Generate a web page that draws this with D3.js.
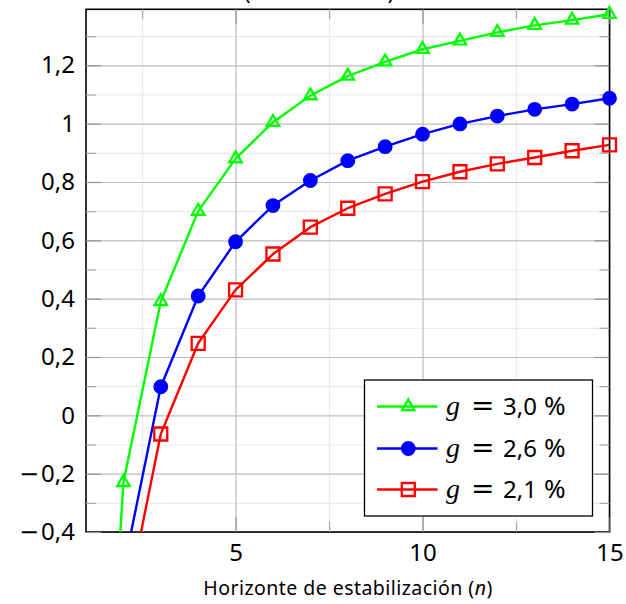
<!DOCTYPE html>
<html>
<head>
<meta charset="utf-8">
<script src="https://cdn.jsdelivr.net/npm/d3@7"></script>
<style>
  body { margin: 0; background: #fff; }
  text { font-family: "Noto Sans", sans-serif; fill: #000; }
</style>
</head>
<body>
<div id="js-canvas"></div>
<script>
"use strict";

// Horizon n (x axis).
const horizons = [1, 2, 3, 4, 5, 6, 7, 8, 9, 10, 11, 12, 13, 14, 15];

// One value per horizon, for each growth rate g.
const g30 = [-2.30, -0.23, 0.39, 0.70, 0.88, 1.005, 1.096, 1.163, 1.212, 1.255, 1.284, 1.313, 1.337, 1.355, 1.375];
const g26 = [-2.90, -0.53, 0.098, 0.409, 0.595, 0.719, 0.805, 0.873, 0.921, 0.964, 0.999, 1.026, 1.049, 1.067, 1.087];
const g21 = [-3.30, -0.70, -0.064, 0.247, 0.430, 0.553, 0.645, 0.710, 0.759, 0.801, 0.835, 0.862, 0.884, 0.907, 0.927];

const seriesNames = ["3,0", "2,6", "2,1"];
const seriesColors = ["#00ff00", "#0000ff", "#ff0000"];
const seriesMarks = ["triangle", "circle", "square"];

const xMajorTicks = [5, 10, 15];
const xMinorTicks = [2.5, 7.5, 12.5];
const yMajorTicks = [-0.4, -0.2, 0, 0.2, 0.4, 0.6, 0.8, 1, 1.2];
const yMinorTicks = [-0.3, -0.1, 0.1, 0.3, 0.5, 0.7, 0.9, 1.1, 1.3];

const xLabel = "Horizonte de estabilización";
const titleLine = "(en % del PIB)";

const width = 626;
const height = 604;
const plot = { left: 86, right: 609.5, top: 9.3, bottom: 532 };

const x = d3.scaleLinear().domain([1, 15]).range([plot.left, plot.right]);
const y = d3.scaleLinear().domain([-0.4, 1.392]).range([plot.bottom, plot.top]);

const locale = d3.formatLocale({
  decimal: ",", thousands: ".", grouping: [3], currency: ["", ""], minus: "\u2212"
});
const fmt = locale.format("~g");

function createCanvas() {
  return d3.select("#js-canvas")
    .append("svg")
      .attr("width", width)
      .attr("height", height);
}

function markPath(kind, r) {
  if (kind === "triangle") {
    const c = r * Math.cos(Math.PI / 6);
    return "M0," + (-r) + "L" + c + "," + (r / 2) + "L" + (-c) + "," + (r / 2) + "Z";
  }
  if (kind === "square") {
    return "M" + (-r) + "," + (-r) + "H" + r + "V" + r + "H" + (-r) + "Z";
  }
  return d3.symbol().type(d3.symbolCircle).size(Math.PI * r * r)();
}

function markSize(i) {
  switch (seriesMarks[i]) {
  case "circle": return 7.4;
  case "triangle": return 7.2;
  default: return 6.5;
  }
}

function styleMark(sel, i) {
  if (seriesMarks[i] === "circle")
    sel.attr("fill", seriesColors[i]).attr("stroke", "none");
  else
    sel.attr("fill", "none").attr("stroke", seriesColors[i]).attr("stroke-width", 2.3);
}

function drawGrid(svg) {
  const h = plot.bottom - plot.top;
  const w = plot.right - plot.left;
  const grids = [
    [d3.axisBottom(x).tickValues(xMinorTicks), "#ebebeb", "x"],
    [d3.axisLeft(y).tickValues(yMinorTicks), "#ebebeb", "y"],
    [d3.axisBottom(x).tickValues(xMajorTicks), "#bdbdbd", "x"],
    [d3.axisLeft(y).tickValues(yMajorTicks), "#bdbdbd", "y"]
  ];
  grids.forEach(function (gr) {
    const g = svg.append("g")
      .attr("transform", gr[2] === "x"
        ? "translate(0," + plot.bottom + ")"
        : "translate(" + plot.left + ",0)")
      .call(gr[0].tickSize(gr[2] === "x" ? -h : -w).tickFormat(""));
    g.select(".domain").remove();
    g.selectAll("line").attr("stroke", gr[1]).attr("stroke-width", 1.2);
  });
}

function drawTicks(svg) {
  const sides = [
    [d3.axisBottom, x, "translate(0," + plot.bottom + ")"],
    [d3.axisTop, x, "translate(0," + plot.top + ")"],
    [d3.axisLeft, y, "translate(" + plot.left + ",0)"],
    [d3.axisRight, y, "translate(" + plot.right + ",0)"]
  ];
  sides.forEach(function (s) {
    const isX = s[1] === x;
    const minor = svg.append("g").attr("transform", s[2])
      .call(s[0](s[1]).tickValues(isX ? xMinorTicks : yMinorTicks)
        .tickSize(-10).tickFormat(""));
    minor.select(".domain").remove();
    minor.selectAll("line").attr("stroke", "#a8a8a8").attr("stroke-width", 1.2);
    const major = svg.append("g").attr("transform", s[2])
      .call(s[0](s[1]).tickValues(isX ? xMajorTicks : yMajorTicks)
        .tickSize(-15).tickFormat(""));
    major.select(".domain").remove();
    major.selectAll("line").attr("stroke", "#949494").attr("stroke-width", 1.2);
  });
}

// TeX-like negative numbers: a wide minus sign with a small gap.
function wideMinus(d) {
  if (d >= 0) return;
  const t = d3.select(this);
  const rest = fmt(d).slice(1);
  t.text(null);
  t.append("tspan").attr("font-family", "'DejaVu Sans', sans-serif").text("\u2212");
  t.append("tspan").attr("dx", 2).text(rest);
}

function drawLabels(svg) {
  const bx = svg.append("g")
    .attr("transform", "translate(0," + plot.bottom + ")")
    .call(d3.axisBottom(x).tickValues(xMajorTicks).tickSize(0).tickPadding(12).tickFormat(fmt));
  bx.select(".domain").remove();
  bx.selectAll("text").attr("font-size", 24).attr("font-family", null);

  const ly = svg.append("g")
    .attr("transform", "translate(" + plot.left + ",0)")
    .call(d3.axisLeft(y).tickValues(yMajorTicks).tickSize(0).tickPadding(11).tickFormat(fmt));
  ly.select(".domain").remove();
  ly.selectAll("text")
    .attr("font-size", 24)
    .attr("font-family", null)
    .each(wideMinus);

  const xl = svg.append("text")
    .attr("x", (plot.left + plot.right) / 2)
    .attr("y", 595)
    .attr("text-anchor", "middle")
    .attr("font-size", 19.5)
    .attr("textLength", 289)
    .attr("lengthAdjust", "spacing");
  xl.append("tspan").text(xLabel + " (");
  xl.append("tspan").attr("font-style", "italic").text("n");
  xl.append("tspan").text(")");

  svg.append("text")
    .attr("x", 244)
    .attr("y", 0)
    .attr("font-size", 22)
    .attr("textLength", 150)
    .attr("lengthAdjust", "spacing")
    .text(titleLine);
}

function drawSeries(svg) {
  const all = [g30, g26, g21];
  svg.append("clipPath").attr("id", "plot-clip")
    .append("rect")
      .attr("x", plot.left).attr("y", plot.top)
      .attr("width", plot.right - plot.left)
      .attr("height", plot.bottom - plot.top);

  const line = d3.line()
    .x(function (d) { return x(d[0]); })
    .y(function (d) { return y(d[1]); });

  all.forEach(function (vals, i) {
    const pts = horizons.map(function (h, k) { return [h, vals[k]]; });
    svg.append("path")
      .datum(pts)
      .attr("clip-path", "url(#plot-clip)")
      .attr("fill", "none")
      .attr("stroke", seriesColors[i])
      .attr("stroke-width", 2.4)
      .attr("stroke-linejoin", "round")
      .attr("d", line);
  });

  all.forEach(function (vals, i) {
    const pts = horizons.map(function (h, k) { return [h, vals[k]]; })
      .filter(function (d) { return d[1] >= y.domain()[0] && d[1] <= y.domain()[1]; });
    svg.append("g")
      .selectAll("path")
      .data(pts)
      .enter()
      .append("path")
        .attr("transform", function (d) { return "translate(" + x(d[0]) + "," + y(d[1]) + ")"; })
        .attr("d", markPath(seriesMarks[i], markSize(i)))
        .call(styleMark, i);
  });
}

function drawFrame(svg) {
  svg.append("rect")
    .attr("x", plot.left).attr("y", plot.top)
    .attr("width", plot.right - plot.left)
    .attr("height", plot.bottom - plot.top)
    .attr("fill", "none")
    .attr("stroke", "#000")
    .attr("stroke-width", 1.6);
}

function drawLegend(svg) {
  const box = { x: 364.5, y: 380, w: 228, h: 136 };
  const lg = svg.append("g");
  lg.append("rect")
    .attr("x", box.x).attr("y", box.y)
    .attr("width", box.w).attr("height", box.h)
    .attr("fill", "#fff")
    .attr("stroke", "#000")
    .attr("stroke-width", 1.3);
  const rowY = [406.5, 448.5, 489.5];
  seriesNames.forEach(function (name, i) {
    const row = lg.append("g").attr("transform", "translate(0," + rowY[i] + ")");
    row.append("line")
      .attr("x1", 377).attr("x2", 437.5)
      .attr("stroke", seriesColors[i]).attr("stroke-width", 2.4);
    row.append("path")
      .attr("transform", "translate(408.3,0)")
      .attr("d", markPath(seriesMarks[i], markSize(i)))
      .call(styleMark, i);
    const t = row.append("text")
      .attr("y", 8)
      .attr("font-size", 24);
    t.append("tspan")
      .attr("x", 446)
      .attr("font-family", "'Liberation Serif', serif")
      .attr("font-style", "italic")
      .attr("font-size", 28)
      .text("g");
    t.append("tspan")
      .attr("x", 471)
      .attr("font-family", "'DejaVu Sans', sans-serif")
      .attr("font-size", 28)
      .text("=");
    t.append("tspan")
      .attr("x", 503)
      .text(name);
    t.append("tspan")
      .attr("x", 544)
      .attr("font-size", 26)
      .text("%");
  });
}

const svg = createCanvas();
drawGrid(svg);
drawFrame(svg);
drawTicks(svg);
drawSeries(svg);
drawLegend(svg);
drawLabels(svg);
</script>
</body>
</html>
